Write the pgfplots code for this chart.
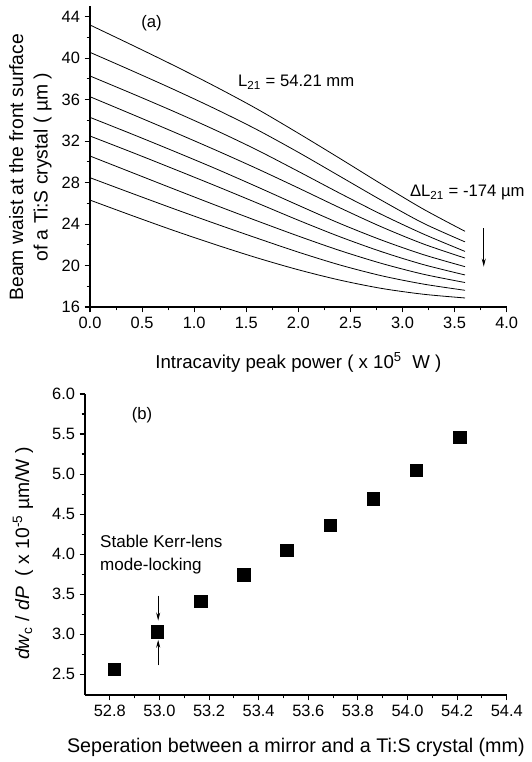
\documentclass[border=0pt]{standalone}
\usepackage{pgfplots}
\pgfplotsset{compat=1.18}
\usepackage{fontspec}
\setmainfont{Liberation Sans}
\usetikzlibrary{arrows.meta}

\pgfplotstableread{
x   c1    c2    c3    c4    c5    c6    c7    c8    c9
0.0 43.20 40.56 38.28 36.28 34.29 32.49 30.56 28.47 26.31
0.4 41.28 38.80 36.60 34.60 32.69 30.93 28.98 26.97 24.83
0.8 39.32 37.00 34.88 32.90 31.05 29.33 27.40 25.49 23.39
1.2 37.28 35.12 33.08 31.16 29.37 27.71 25.84 24.05 22.03
1.6 35.12 33.12 31.16 29.36 27.61 26.05 24.32 22.65 20.75
2.0 32.76 30.92 29.08 27.48 25.81 24.37 22.84 21.29 19.59
2.4 30.32 28.60 26.96 25.56 24.05 22.77 21.44 20.05 18.59
2.8 27.84 26.28 24.92 23.72 22.45 21.33 20.20 19.01 17.79
3.2 25.44 24.08 23.04 22.08 21.05 20.09 19.16 18.21 17.23
3.6 23.30 22.28 21.36 20.72 19.89 19.09 18.36 17.61 16.87
}\curves

\pgfplotstableread{
x y
52.818 2.56
52.992 3.03
53.166 3.41
53.340 3.74
53.514 4.05
53.688 4.36
53.862 4.69
54.036 5.05
54.210 5.46
}\slopes

\pgfplotsset{
  myaxis/.style={
    scale only axis,
    axis x line*=bottom,
    axis y line*=left,
    tick align=outside,
    axis line style={line width=1pt},
    every tick/.style={black, line width=0.8pt},
    major tick length=4pt,
    minor tick length=2.5pt,
    /pgf/number format/assume math mode=true,
    tick label style={font=\fontsize{12.3}{12.3}\selectfont},
    clip=false,
  }
}

\begin{document}
\begin{tikzpicture}
% ---------- (a) ----------
\begin{axis}[myaxis,
  at={(67.5pt,341.25pt)}, anchor=south west,
  width=312.5pt, height=225.5pt,
  xmin=0, xmax=4, ymin=16, ymax=45,
  xtick={0,0.5,1,1.5,2,2.5,3,3.5,4},
  ytick={16,20,24,28,32,36,40,44},
  xticklabel style={/pgf/number format/.cd, fixed, fixed zerofill, precision=1},
  minor x tick num=1, minor y tick num=1,
  xlabel={Intracavity peak power ( x 10\textsuperscript{5}\ \ W )},
  ylabel={Beam waist at the front surface\\of a Ti:S crystal ( µm )},
  xlabel style={at={(axis description cs:0.5,-0.183)}, anchor=center, font=\fontsize{14}{14}\selectfont},
  ylabel style={at={(axis description cs:-0.143,0.465)}, anchor=center, align=center, font=\fontsize{14.5}{18.5}\selectfont},
]
\foreach \c in {c1,c2,c3,c4,c5,c6,c7,c8,c9}{
  \addplot[black, line width=0.6pt, smooth] table[x=x, y=\c] {\curves};
}
\node[font=\fontsize{12.5}{12.5}\selectfont] at (axis cs:0.59,43.4) {(a)};
\node[anchor=west, font=\fontsize{12.5}{12.5}\selectfont, inner sep=0pt] at (axis cs:1.42,37.7) {L\textsubscript{21} = 54.21 mm};
\node[anchor=west, font=\fontsize{12.5}{12.5}\selectfont, inner sep=0pt] at (axis cs:3.07,27.0) {ΔL\textsubscript{21} = -174 µm};
\draw[-{Stealth[length=6pt,width=3pt]}, line width=0.6pt] (axis cs:3.78,23.6) -- (axis cs:3.78,19.9);
\end{axis}

% ---------- (b) ----------
\begin{axis}[myaxis,
  at={(63.75pt,50.25pt)}, anchor=south west,
  width=316.3pt, height=225.75pt,
  xmin=52.7, xmax=54.4, ymin=2.24, ymax=6,
  xtick={52.8,53,53.2,53.4,53.6,53.8,54,54.2,54.4},
  ytick={2.5,3,3.5,4,4.5,5,5.5,6},
  xticklabel style={/pgf/number format/.cd, fixed, fixed zerofill, precision=1},
  yticklabel style={/pgf/number format/.cd, fixed, fixed zerofill, precision=1},
  minor x tick num=1, minor y tick num=1,
  xlabel={Seperation between a mirror and a Ti:S crystal (mm)},
  ylabel={\textit{dw}\textsubscript{c} / \textit{dP}\ \ ( x 10\textsuperscript{-5} µm/W )},
  xlabel style={at={(axis description cs:0.5,-0.173)}, anchor=center, font=\fontsize{14.8}{14.8}\selectfont},
  ylabel style={at={(axis description cs:-0.147,0.47)}, anchor=center, font=\fontsize{14.5}{14.5}\selectfont},
]
\addplot[only marks, mark=square*, mark size=4.7pt, black] table[x=x, y=y] {\slopes};
\node[font=\fontsize{12.5}{12.5}\selectfont] at (axis cs:52.93,5.74) {(b)};
\node[anchor=west, align=left, inner sep=0pt, font=\fontsize{12.8}{17}\selectfont] at (axis cs:52.76,3.99) {Stable Kerr-lens\\mode-locking};
\draw[-{Stealth[length=6pt,width=3pt]}, line width=0.6pt] (axis cs:52.995,3.48) -- (axis cs:52.995,3.17);
\draw[-{Stealth[length=6pt,width=3pt]}, line width=0.6pt] (axis cs:52.995,2.61) -- (axis cs:52.995,2.93);
\end{axis}

\pgfresetboundingbox
\useasboundingbox (0,0) rectangle (398.25pt,571.5pt);
\end{tikzpicture}
\end{document}
